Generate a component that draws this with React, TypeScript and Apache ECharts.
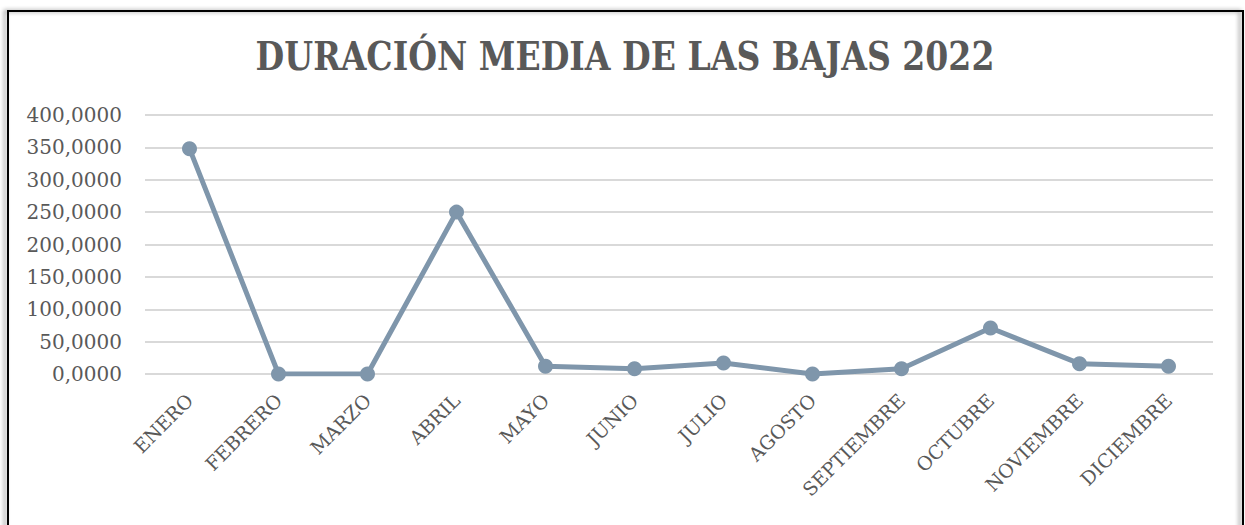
import React, { useEffect, useRef } from "react";
import * as echarts from "echarts";

const titleText = "DURACIÓN MEDIA DE LAS BAJAS 2022";
const months = [
  "ENERO", "FEBRERO", "MARZO", "ABRIL", "MAYO", "JUNIO",
  "JULIO", "AGOSTO", "SEPTIEMBRE", "OCTUBRE", "NOVIEMBRE", "DICIEMBRE",
];
const duration = [348, 0, 0, 250, 12, 8, 17, 0, 8, 71, 16, 12];
const yMin = 0;
const yMax = 400;
const yStep = 50;

const SERIF = "'DejaVu Serif', 'Liberation Serif', serif";

export default function App() {
  const ref = useRef<HTMLDivElement>(null);
  useEffect(() => {
    document.body.style.margin = "0";
    const chart = echarts.init(ref.current!, null, { renderer: "svg" });
    chart.setOption({
      animation: false,
      backgroundColor: "#ffffff",
      graphic: [
        {
          type: "text",
          x: 625,
          y: 36,
          scaleX: 0.92,
          style: {
            text: titleText,
            fontFamily: "'DejaVu Serif Condensed', 'DejaVu Serif', serif",
            fontWeight: "bold",
            fontSize: 40,
            fill: "#595959",
            textAlign: "center",
            textVerticalAlign: "top",
          },
          z: 50,
        },
        {
          type: "rect",
          shape: { x: 8, y: 11, width: 1235, height: 530 },
          style: {
            fill: "rgba(0,0,0,0)",
            stroke: "#000000",
            lineWidth: 2,
            shadowColor: "rgba(0,0,0,0.45)",
            shadowBlur: 4,
            shadowOffsetX: -3,
            shadowOffsetY: 0,
          },
          z: 100,
        },
      ],
      grid: { left: 145, right: 32, top: 115, bottom: 151, containLabel: false },
      xAxis: {
        type: "category",
        data: months,
        boundaryGap: true,
        axisLine: { show: false },
        axisTick: { show: false },
        axisLabel: {
          rotate: 45,
          margin: 23,
          interval: 0,
          fontFamily: SERIF,
          fontSize: 19,
          color: "#595959",
        },
      },
      yAxis: {
        type: "value",
        min: yMin,
        max: yMax,
        interval: yStep,
        axisLine: { show: false },
        axisTick: { show: false },
        splitLine: { lineStyle: { color: "#d9d9d9", width: 2 } },
        axisLabel: {
          margin: 23,
          fontFamily: SERIF,
          fontSize: 20,
          color: "#595959",
          formatter: (v: number) => v.toFixed(4).replace(".", ","),
        },
      },
      series: [
        {
          type: "line",
          data: duration,
          symbol: "circle",
          symbolSize: 15,
          lineStyle: { color: "#7f96ab", width: 5 },
          itemStyle: { color: "#7f96ab" },
        },
      ],
    });
    return () => chart.dispose();
  }, []);
  return <div ref={ref} style={{ width: 1245, height: 525 }} />;
}
